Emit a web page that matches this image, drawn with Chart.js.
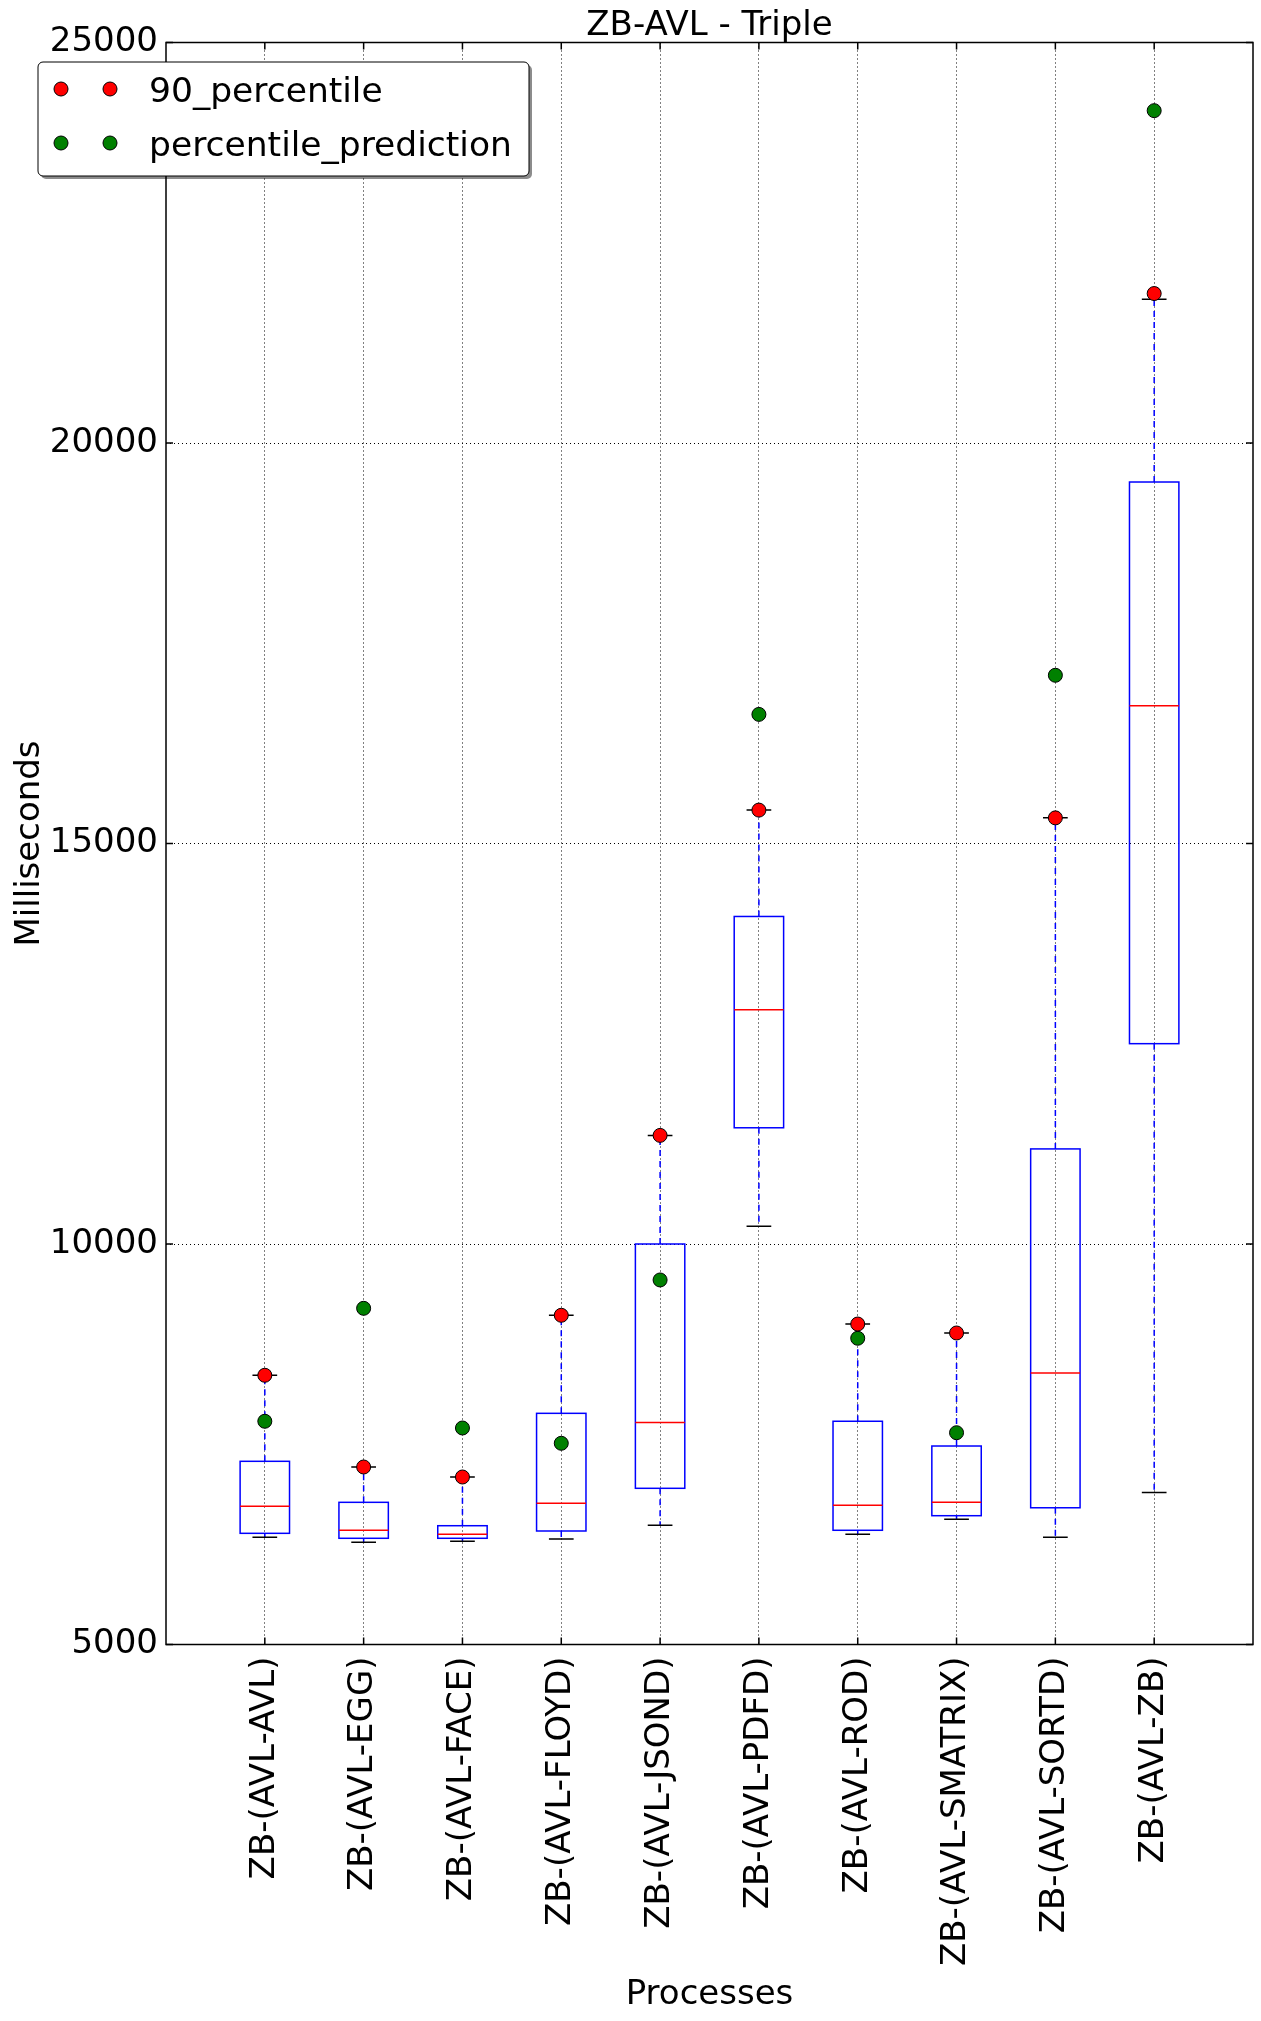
<!DOCTYPE html>
<html>
<head>
<meta charset="utf-8">
<script src="https://cdn.jsdelivr.net/npm/chart.js@4/dist/chart.umd.min.js"></script>
<style>
  html, body { margin: 0; padding: 0; background: #fff; }
  #wrap { width: 1261px; height: 2021px; }
</style>
</head>
<body>
<div id="wrap"><canvas id="boxChart"></canvas></div>
<script>
// values (milliseconds)
var categories = ['ZB-(AVL-AVL)', 'ZB-(AVL-EGG)', 'ZB-(AVL-FACE)', 'ZB-(AVL-FLOYD)', 'ZB-(AVL-JSOND)',
                  'ZB-(AVL-PDFD)', 'ZB-(AVL-ROD)', 'ZB-(AVL-SMATRIX)', 'ZB-(AVL-SORTD)', 'ZB-(AVL-ZB)'];
var whiskerLow  = [6338, 6276, 6288, 6317, 6488, 10223, 6376, 6563, 6338, 6898];
var q1          = [6388, 6326, 6326, 6417, 6950, 11451, 6426, 6608, 6707, 12501];
var median      = [6725, 6426, 6376, 6763, 7771, 12923, 6738, 6775, 8390, 16720];
var q3          = [7287, 6775, 6483, 7886, 10000, 14089, 7787, 7478, 11187, 19513];
var whiskerHigh = [8361, 7216, 7091, 9110, 11356, 15417, 9001, 8889, 15320, 21795];
var p90         = [8361, 7216, 7091, 9110, 11356, 15417, 9001, 8889, 15320, 21866];
var prediction  = [7787, 9197, 7703, 7512, 9551, 16612, 8823, 7644, 17100, 24149];
var yTicks      = [5000, 10000, 15000, 20000, 25000];

var FONT = '"DejaVu Sans", sans-serif';

function toPoints(arr) {
    return arr.map(function(v, i) { return { x: i + 1, y: v }; });
}

// boxes, whiskers and caps drawn with the chart's own scales
var boxPlugin = {
    id: 'boxes',
    beforeDatasetsDraw: function(chart) {
        var ctx = chart.ctx, xs = chart.scales.x, ys = chart.scales.y;
        ctx.save();
        for (var i = 0; i < categories.length; i++) {
            var xc = xs.getPixelForValue(i + 1);
            var bl = xs.getPixelForValue(i + 0.75), br = xs.getPixelForValue(i + 1.25);
            var cl = xs.getPixelForValue(i + 0.875), cr = xs.getPixelForValue(i + 1.125);
            var yq1 = ys.getPixelForValue(q1[i]), yq3 = ys.getPixelForValue(q3[i]);
            var ymed = ys.getPixelForValue(median[i]);
            var ylo = ys.getPixelForValue(whiskerLow[i]), yhi = ys.getPixelForValue(whiskerHigh[i]);

            // whiskers
            ctx.strokeStyle = '#0000ff';
            ctx.lineWidth = 1.5;
            ctx.setLineDash([6, 5]);
            ctx.beginPath();
            ctx.moveTo(xc, yq3); ctx.lineTo(xc, yhi);
            ctx.moveTo(xc, yq1); ctx.lineTo(xc, ylo);
            ctx.stroke();
            ctx.setLineDash([]);

            // caps
            ctx.strokeStyle = '#000';
            ctx.beginPath();
            ctx.moveTo(cl, yhi); ctx.lineTo(cr, yhi);
            ctx.moveTo(cl, ylo); ctx.lineTo(cr, ylo);
            ctx.stroke();

            // box
            ctx.strokeStyle = '#0000ff';
            ctx.strokeRect(bl, yq3, br - bl, yq1 - yq3);

            // median
            ctx.strokeStyle = '#ff0000';
            ctx.beginPath();
            ctx.moveTo(bl, ymed); ctx.lineTo(br, ymed);
            ctx.stroke();
        }
        ctx.restore();
    },
    afterDraw: function(chart) {
        var ctx = chart.ctx, a = chart.chartArea, xs = chart.scales.x, ys = chart.scales.y;
        ctx.save();
        // inward tick marks
        ctx.strokeStyle = '#000';
        ctx.lineWidth = 1.5;
        ctx.beginPath();
        xs.ticks.forEach(function(t) {
            var x = xs.getPixelForValue(t.value);
            ctx.moveTo(x, a.bottom); ctx.lineTo(x, a.bottom - 7);
            ctx.moveTo(x, a.top); ctx.lineTo(x, a.top + 7);
        });
        ys.ticks.forEach(function(t) {
            var y = ys.getPixelForValue(t.value);
            ctx.moveTo(a.left, y); ctx.lineTo(a.left + 7, y);
            ctx.moveTo(a.right, y); ctx.lineTo(a.right - 7, y);
        });
        ctx.stroke();
        // frame
        ctx.strokeRect(a.left, a.top, a.right - a.left, a.bottom - a.top);

        // title
        ctx.fillStyle = '#000';
        ctx.font = '34px ' + FONT;
        ctx.textAlign = 'center';
        ctx.textBaseline = 'alphabetic';
        ctx.fillText('ZB-AVL - Triple', (a.left + a.right) / 2, 35);

        // legend, matplotlib style with two markers per entry
        var lx = 38, ly = 62, lw = 491, lh = 114;
        ctx.fillStyle = 'rgba(0,0,0,0.45)';
        ctx.beginPath(); ctx.roundRect(lx + 3, ly + 3, lw, lh, 5); ctx.fill();
        ctx.fillStyle = '#fff';
        ctx.strokeStyle = '#000';
        ctx.lineWidth = 1;
        ctx.beginPath(); ctx.roundRect(lx, ly, lw, lh, 5); ctx.fill(); ctx.stroke();
        ctx.font = '34.5px ' + FONT;
        chart.data.datasets.forEach(function(ds, k) {
            var cy = 89 + k * 54;
            [61, 110].forEach(function(mx) {
                ctx.beginPath();
                ctx.arc(mx, cy, 7, 0, Math.PI * 2);
                ctx.fillStyle = ds.backgroundColor;
                ctx.fill();
                ctx.strokeStyle = '#000';
                ctx.lineWidth = 1;
                ctx.stroke();
            });
            ctx.fillStyle = '#000';
            ctx.textAlign = 'left';
            ctx.fillText(ds.label, 149, cy + 13);
        });
        ctx.restore();
    }
};

var ctx = document.getElementById('boxChart').getContext('2d');
var boxChart = new Chart(ctx, {
    type: 'scatter',
    data: {
        datasets: [{
            label: '90_percentile',
            data: toPoints(p90),
            backgroundColor: '#ff0000',
            borderColor: '#000',
            borderWidth: 1,
            pointRadius: 7
        }, {
            label: 'percentile_prediction',
            data: toPoints(prediction),
            backgroundColor: '#008000',
            borderColor: '#000',
            borderWidth: 1,
            pointRadius: 7
        }]
    },
    options: {
        responsive: true,
        maintainAspectRatio: false,
        animation: false,
        layout: { padding: { top: 42.5, right: 8, left: 0, bottom: 0 } },
        plugins: { legend: { display: false }, tooltip: { enabled: false } },
        scales: {
            x: {
                type: 'linear',
                min: 0,
                max: 11,
                afterBuildTicks: function(s) {
                    s.ticks = categories.map(function(c, i) { return { value: i + 1 }; });
                },
                afterFit: function(s) { s.height = 376.5; },
                ticks: {
                    autoSkip: false,
                    minRotation: 90,
                    maxRotation: 90,
                    padding: 12,
                    color: '#000',
                    font: { family: FONT, size: 34 },
                    callback: function(v) { return categories[v - 1]; }
                },
                grid: { color: '#000', lineWidth: 1, drawTicks: false },
                border: { display: false, dash: [1, 3] },
                title: {
                    display: true, text: 'Processes', color: '#000',
                    font: { family: FONT, size: 34 }, padding: { top: 0, bottom: 5 }
                }
            },
            y: {
                min: 5000,
                max: 25000,
                afterBuildTicks: function(s) {
                    s.ticks = yTicks.map(function(v) { return { value: v }; });
                },
                afterFit: function(s) { s.width = 166; },
                ticks: {
                    padding: 8,
                    color: '#000',
                    font: { family: FONT, size: 34 },
                    callback: function(v) { return String(v); }
                },
                grid: { color: '#000', lineWidth: 1, drawTicks: false },
                border: { display: false, dash: [1, 3] },
                title: {
                    display: true, text: 'Milliseconds', color: '#000',
                    font: { family: FONT, size: 34 }, padding: { top: 10, bottom: 0 }
                }
            }
        }
    },
    plugins: [boxPlugin]
});
</script>
</body>
</html>
